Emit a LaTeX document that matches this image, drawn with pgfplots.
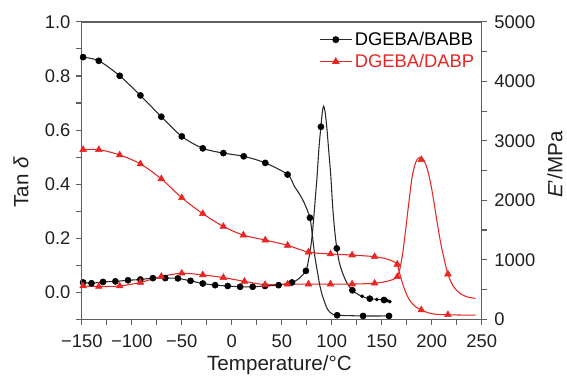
\documentclass[border=0pt]{standalone}
\usepackage{pgfplots}
\pgfplotsset{compat=1.18}
\usepackage{fontspec}
\setmainfont{Liberation Sans}
\definecolor{myred}{RGB}{232,38,36}
\definecolor{axgray}{RGB}{95,95,95}
\definecolor{lblack}{RGB}{40,40,40}

\begin{document}
\begin{tikzpicture}
\pgfplotsset{
  every axis/.append style={
    scale only axis, width=300.75pt, height=223.5pt,
    xmin=-150, xmax=250,
    axis line style={axgray, line width=0.9pt},
    tick style={axgray, line width=0.8pt},
    tick align=outside,
    major tick length=4pt, minor tick length=4pt,
    tick label style={font=\fontsize{13.8}{16}\selectfont, text=black!88},
    label style={font=\fontsize{15.5}{18}\selectfont, text=black!88},
  },
  bline/.style={lblack, line width=0.8pt, smooth, no markers},
  rline/.style={myred, line width=0.8pt, smooth, no markers},
  bmark/.style={only marks, mark=*, mark size=2.3pt, black},
  rmark/.style={only marks, mark=triangle*, mark size=2.9pt, myred},
}
\begin{axis}[
  ymin=-0.1, ymax=1.0,
  xtick={-150,-100,...,250},
  xticklabels={−150,−100,−50,0,50,100,150,200,250},
  minor xtick={-125,-75,...,225},
  ytick={0,0.2,0.4,0.6,0.8,1.0},
  yticklabels={0.0,0.2,0.4,0.6,0.8,1.0},
  minor ytick={-0.1,0.1,0.3,0.5,0.7,0.9},
  xtick pos=left, ytick pos=left,
  xticklabel style={yshift=-4pt},
  yticklabel style={xshift=-1pt},
  xlabel={Temperature/°C},
  ylabel={Tan \textit{δ}},
  xlabel style={at={(axis description cs:0.494,-0.154)}, anchor=center},
  ylabel style={at={(axis description cs:-0.152,0.46)}, anchor=center},
  legend style={at={(rel axis cs:0.995,0.985)}, anchor=north east, draw=none, fill=none,
    font=\fontsize{13.8}{16}\selectfont, row sep=1pt, inner sep=2pt},
  legend cell align=left,
  legend image code/.code={\draw[mark repeat=2,mark phase=2,#1] plot coordinates {(0cm,0cm) (0.42cm,0cm) (0.84cm,0cm)};},
]
\addlegendimage{lblack, line width=0.8pt, mark=*, mark size=2.2pt, mark options={black}}
\addlegendentry{DGEBA/BABB}
\addlegendimage{myred, line width=0.8pt, mark=triangle*, mark size=2.6pt}
\addlegendentry{\textcolor{myred}{DGEBA/DABP}}

% black tan delta
\addplot[bline, forget plot] table {
-150 0.036
-148.7 0.036
-140.3 0.033
-128.8 0.038
-116.4 0.040
-103.8 0.044
-91.4 0.047
-78.9 0.052
-66.5 0.052
-53.9 0.051
-41.3 0.042
-29 0.032
-16.6 0.026
-4.1 0.023
8.3 0.020
20.9 0.020
33.2 0.023
46.8 0.026
60.2 0.036
67 0.050
74.1 0.079
76.5 0.115
79.1 0.171
81 0.235
82.4 0.295
84 0.37
85.1 0.419
87.3 0.54
89.1 0.612
90.5 0.665
91.7 0.688
93.2 0.67
95 0.61
97 0.52
99 0.43
101 0.31
103 0.225
105 0.162
107.5 0.11
110.6 0.073
115 0.035
120.6 0.007
128 -0.012
138 -0.024
152.2 -0.029
159 -0.037
};
\addplot[bmark, forget plot] table {
-148.7 0.036
-140.3 0.033
-128.8 0.038
-116.4 0.040
-103.8 0.044
-91.4 0.047
-78.9 0.052
-66.5 0.052
-53.9 0.051
-41.3 0.042
-29 0.032
-16.6 0.026
-4.1 0.023
8.3 0.020
20.9 0.020
33.2 0.023
46.8 0.026
60.2 0.036
74.1 0.079
89.1 0.612
105 0.162
120.6 0.007
138 -0.024
152.2 -0.029
};
\addplot[only marks, mark=*, mark size=1.2pt, black, forget plot] table {
130.3 -0.015
145 -0.027
155.5 -0.031
158 -0.035
};

% red tan delta
\addplot[rline, forget plot] table {
-150 0.023
-148.7 0.023
-133 0.021
-112.1 0.023
-91.4 0.036
-70.5 0.058
-50 0.070
-29 0.064
-8.4 0.054
12.6 0.040
33.3 0.028
55.8 0.030
76.7 0.030
98.7 0.030
120.3 0.030
142.8 0.033
155 0.040
161 0.047
165.5 0.057
168 0.085
170.5 0.134
173 0.205
175.5 0.283
178 0.36
180.5 0.431
183.9 0.48
186.5 0.496
189.5 0.499
192.5 0.485
195.5 0.456
199 0.40
202.2 0.332
205.5 0.255
208.8 0.184
212.5 0.12
216.1 0.067
221 0.025
227 -0.001
235 -0.017
243.7 -0.023
};
\addplot[rmark, forget plot] table {
-148.7 0.023
-133 0.021
-112.1 0.023
-91.4 0.036
-70.5 0.058
-50 0.070
-29 0.064
-8.4 0.054
12.6 0.040
33.3 0.028
55.8 0.030
76.7 0.030
98.7 0.030
120.3 0.030
142.8 0.033
165.5 0.057
189.5 0.490
216.1 0.067
};
\end{axis}

\begin{axis}[
  ymin=0, ymax=5000,
  hide x axis,
  ytick pos=right, yticklabel pos=right,
  ytick={0,1000,...,5000},
  yticklabels={0,1000,2000,3000,4000,5000},
  minor ytick={500,1500,...,4500},
  yticklabel style={xshift=2pt},
  ylabel={\textit{E}'/MPa},
  ylabel style={at={(axis description cs:1.183,0.52)}, anchor=center},
]
% black E'
\addplot[bline] table {
-150 4412
-148.7 4408
-133 4346
-112.1 4094
-91.4 3764
-70.5 3406
-50 3075
-29 2874
-8.4 2794
11.9 2740
33.5 2629
55.8 2433
62.5 2237
67.5 2110
72.4 1958
78.1 1706
80.5 1420
83 1060
85.7 790
88 570
90.7 391
95.7 168
100 95
105.4 67
131.3 55
157.2 55
};
\addplot[bmark] table {
-148.7 4408
-133 4346
-112.1 4094
-91.4 3764
-70.5 3406
-50 3075
-29 2874
-8.4 2794
11.9 2740
33.5 2629
55.8 2433
78.1 1706
105.4 67
131.3 55
157.2 55
};
% red E'
\addplot[rline] table {
-150 2852
-148.7 2852
-133 2852
-112.1 2763
-91.4 2612
-70.5 2361
-50 2042
-29 1775
-8.4 1560
11.6 1414
33.5 1331
55.8 1242
76.7 1129
98.7 1097
120.3 1079
142.8 1052
154 1018
161 975
165.5 923
167.2 810
170.5 616
173.5 470
177.2 336
183 220
189.5 156
196 110
203.8 84
216.1 75
230 70
243.7 70
};
\addplot[rmark] table {
-148.7 2852
-133 2852
-112.1 2763
-91.4 2612
-70.5 2361
-50 2042
-29 1775
-8.4 1560
11.6 1414
33.5 1331
55.8 1242
76.7 1129
98.7 1097
120.3 1079
142.8 1052
165.5 923
189.5 156
216.1 75
};
\end{axis}
\path (-61.5pt,-42pt) rectangle (363.75pt,240pt);
\end{tikzpicture}
\end{document}
